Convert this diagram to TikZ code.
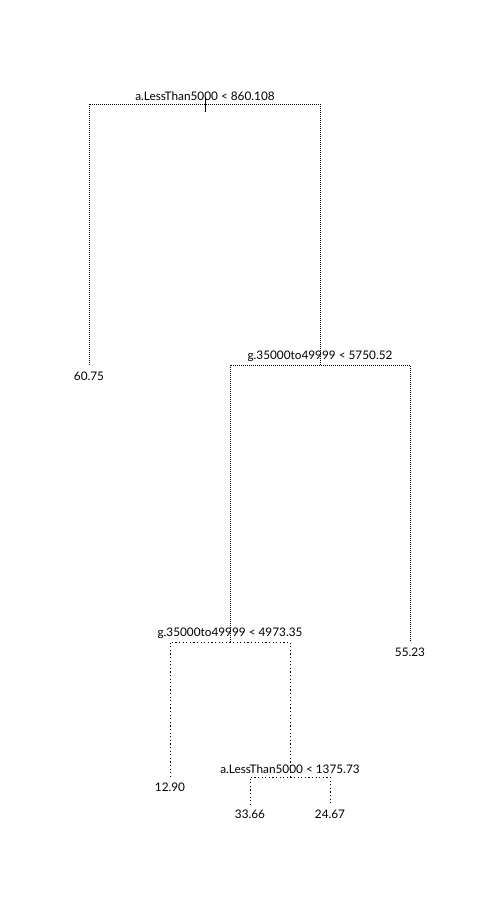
\documentclass[tikz,border=0pt]{standalone}
\usepackage{fontspec}
\setmainfont{Lato}
\begin{document}
\begin{tikzpicture}[x=1pt,y=-1pt,
  lab/.style={inner sep=0pt, font=\fontsize{11.8}{13}\selectfont},
  upper/.style={line width=0.7pt, dash pattern=on 0.8pt off 1.2pt},
  lower/.style={line width=0.8pt, dash pattern=on 1.2pt off 2.4pt}]
\useasboundingbox[fill=white] (0,0) rectangle (500,909);
% split points
\coordinate (n1) at (205,104);
\coordinate (n2) at (320,365);
\coordinate (n3) at (230,642);
\coordinate (n4) at (290,777);
% leaf ends
\coordinate (l1) at (89,365);
\coordinate (l2) at (410,642);
\coordinate (l3) at (170,777);
\coordinate (l4) at (250,805);
\coordinate (l5) at (330,805);
% root stub
\coordinate (s1) at (205,97);
\coordinate (s2) at (205,112);
% branches
\draw[upper] (l1) |- (n1) -| (n2);
\draw[upper] (n3) |- (n2) -| (l2);
\draw[lower] (l3) |- (n3) -| (n4);
\draw[lower] (l4) |- (n4) -| (l5);
\draw[line width=0.8pt] (s1) -- (s2);
% split labels
\node[lab] (t1) at (205,96) {a.LessThan5000 < 860.108};
\node[lab] (t2) at (320,356) {g.35000to49999 < 5750.52};
\node[lab] (t3) at (230,633) {g.35000to49999 < 4973.35};
\node[lab] (t4) at (290,769) {a.LessThan5000 < 1375.73};
% leaf labels
\node[lab] (v1) at (89,376) {60.75};
\node[lab] (v2) at (410,652) {55.23};
\node[lab] (v3) at (170,787) {12.90};
\node[lab] (v4) at (250,814) {33.66};
\node[lab] (v5) at (330,814) {24.67};
\end{tikzpicture}
\end{document}
